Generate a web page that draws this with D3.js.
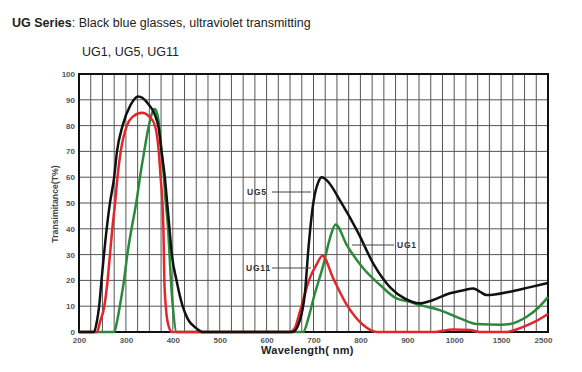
<!DOCTYPE html>
<html>
<head>
<meta charset="utf-8">
<script src="https://cdn.jsdelivr.net/npm/d3@7"></script>
<style>
  body { margin: 0; background: #fff; }
  text { font-family: Arial, "Liberation Sans", sans-serif; }
</style>
</head>
<body>
<svg></svg>
<script>
// tick labels of the (non-linear) wavelength axis, equally spaced
const xTicks = [200, 300, 400, 500, 600, 700, 800, 900, 1000, 1500, 2500];
const yTicks = [0, 10, 20, 30, 40, 50, 60, 70, 80, 90, 100];

// UG5 (black)
const ug5Wl = [200, 232, 238, 243, 248, 259, 266, 275, 281, 293, 310, 326, 345, 369, 376, 383, 388, 393, 398, 408, 421, 432, 450, 464,
  500, 600, 650, 656, 670, 682, 689, 700, 710, 718, 730, 758, 794, 829, 865, 894, 926, 955, 991, 1100, 1204, 1275, 1346, 1690, 2100, 2500];
const ug5T = [0, 0, 4, 10, 20, 40, 50, 60, 70, 80, 88, 91.3, 89, 80, 70, 60, 50, 40, 30, 20, 10, 5, 1.5, 0,
  0, 0, 0, 0, 4, 15.6, 32, 50.5, 58, 60, 58.5, 50.5, 38.9, 26, 17, 13, 11.1, 12.4, 15, 16.2, 16.9, 15.6, 14.3, 15.6, 17.3, 19];

// UG1 (green)
const ug1Wl = [200, 275, 281, 287, 296, 303, 312, 322, 330, 339, 349, 361, 366, 371, 376, 381, 385, 390, 393, 396, 400, 408,
  500, 600, 678, 690, 700, 721, 735, 747, 771, 806, 842, 877, 906, 926, 969, 1062, 1240, 1500, 1690, 2046, 2300, 2500];
const ug1T = [0, 0, 4, 10, 20, 30, 40, 50, 60, 70, 80, 86.4, 85, 80, 70, 60, 50, 40, 30, 20, 10, 0,
  0, 0, 0, 6, 13, 26, 36.3, 41.7, 33.7, 24.7, 18.2, 13, 11.7, 10.5, 8.5, 5.3, 3.1, 2.8, 3.1, 5.9, 9.5, 13.5];

// UG11 (red)
const ug11Wl = [200, 238, 245, 254, 261, 266, 271, 277, 282, 289, 302, 315, 334, 350, 362, 370, 374, 378, 380, 382, 385, 390, 398,
  500, 600, 650, 660, 671, 692, 706, 719, 742, 771, 806, 835, 900, 955, 998, 1170, 1272, 1500, 1600, 1973, 2200, 2500];
const ug11T = [0, 0, 4, 10, 20, 30, 40, 50, 60, 70, 80, 83.5, 85, 83.5, 80, 70, 60, 50, 40, 20, 10, 3, 0,
  0, 0, 0, 1.5, 7.9, 20.8, 26, 29.6, 20.8, 10.5, 2.7, 0, 0, 0, 1, 0.8, 0, 0, 0, 2, 3.8, 7];

const width = 582;
const height = 372;
const plotLeft = 79, plotRight = 548, plotTop = 74, plotBottom = 332;

const svg = d3.select('svg').attr('width', width).attr('height', height);

const xPos = xTicks.map((d, i) => plotLeft + i * (plotRight - plotLeft) / (xTicks.length - 1));
const x = d3.scaleLinear().domain(xTicks).range(xPos);
const y = d3.scaleLinear().domain([0, 100]).range([plotBottom, plotTop]);

// title
const title = svg.append('text').attr('x', 12).attr('y', 27).style('font-size', '12.5px').style('fill', '#222');
title.append('tspan').style('font-weight', 'bold').text('UG Series');
title.append('tspan').text(': Black blue glasses, ultraviolet transmitting');
svg.append('text').attr('x', 82).attr('y', 56).style('font-size', '12.5px').style('fill', '#222')
  .text('UG1, UG5, UG11');

// grid
const grid = svg.append('g').attr('stroke', '#555').attr('stroke-width', 1);
for (let i = 0; i < xTicks.length - 1; i++) {
  for (let k = 0; k < 4; k++) {
    const gx = xPos[i] + k * (xPos[i + 1] - xPos[i]) / 4;
    grid.append('line').attr('x1', gx).attr('x2', gx).attr('y1', plotTop).attr('y2', plotBottom);
  }
}
yTicks.forEach(t => {
  grid.append('line').attr('x1', plotLeft).attr('x2', plotRight).attr('y1', y(t)).attr('y2', y(t));
});

// axes
const xAxis = svg.append('g').attr('transform', `translate(0,${plotBottom})`)
  .call(d3.axisBottom(x).tickValues(xTicks).tickSize(0).tickPadding(5).tickFormat(d3.format('d')));
const yAxis = svg.append('g').attr('transform', `translate(${plotLeft},0)`)
  .call(d3.axisLeft(y).tickValues(yTicks).tickSize(0).tickPadding(4));
[xAxis, yAxis].forEach(a => {
  a.select('.domain').remove();
  a.selectAll('text').style('font-family', 'Arial, sans-serif').style('font-size', '8px')
    .style('font-weight', 'bold').style('fill', '#555');
});
// last label sits just inside the right edge in the original
xAxis.selectAll('.tick').filter(d => d === 2500).select('text').attr('dx', -5);

// frame
svg.append('rect').attr('x', plotLeft).attr('y', plotTop)
  .attr('width', plotRight - plotLeft).attr('height', plotBottom - plotTop)
  .attr('fill', 'none').attr('stroke', '#111').attr('stroke-width', 2);

// curves
const line = d3.line().x(d => x(d[0])).y(d => y(d[1])).curve(d3.curveMonotoneX);
const series = [
  { wl: ug1Wl, t: ug1T, color: '#2a8a3a' },
  { wl: ug11Wl, t: ug11T, color: '#e4262c' },
  { wl: ug5Wl, t: ug5T, color: '#111' }
];
series.forEach(s => {
  svg.append('path')
    .datum(s.wl.map((w, i) => [w, s.t[i]]))
    .attr('d', line)
    .attr('fill', 'none')
    .attr('stroke', s.color)
    .attr('stroke-width', 2.5)
    .attr('stroke-linejoin', 'round');
});

// curve labels with leader lines
const labels = [
  { text: 'UG5', tx: 247, ty: 195, x1: 272, x2: 311, ly: 192 },
  { text: 'UG1', tx: 397, ty: 248, x1: 352, x2: 394, ly: 245 },
  { text: 'UG11', tx: 246, ty: 271, x1: 272, x2: 311, ly: 268 }
];
labels.forEach(l => {
  svg.append('line').attr('x1', l.x1).attr('x2', l.x2).attr('y1', l.ly).attr('y2', l.ly)
    .attr('stroke', '#444').attr('stroke-width', 1);
  svg.append('text').attr('x', l.tx).attr('y', l.ty).text(l.text)
    .style('font-size', '8.5px').style('font-weight', 'bold').style('letter-spacing', '0.8px').style('fill', '#333');
});

// axis titles
svg.append('text').attr('x', 261).attr('y', 354).text('Wavelength( nm)')
  .style('font-size', '11px').style('font-weight', 'bold').style('letter-spacing', '0.3px').style('fill', '#222');
svg.append('text').attr('transform', 'translate(58,204) rotate(-90)').attr('text-anchor', 'middle')
  .text('Transimitance(T%)')
  .style('font-size', '8.7px').style('font-weight', 'bold').style('fill', '#444');
</script>
</body>
</html>
